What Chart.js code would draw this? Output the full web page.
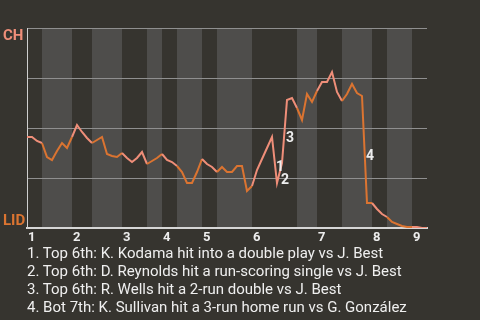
<!DOCTYPE html>
<html>
<head>
<meta charset="utf-8">
<script src="https://cdn.jsdelivr.net/npm/chart.js@4/dist/chart.umd.min.js"></script>
<style>
  html, body { margin: 0; padding: 0; background: #36342f; }
  #wrap { position: relative; width: 480px; height: 320px; overflow: hidden; }
  #c { position: absolute; left: 0; top: 0; }
  #notes {
    position: absolute; left: 27px; top: 244px;
    font: 15px Roboto, sans-serif; line-height: 18px;
    color: #efefef; white-space: nowrap;
  }
</style>
</head>
<body>
<div id="wrap">
  <canvas id="c" width="480" height="320"></canvas>
  <div id="notes"></div>
</div>
<script>
// CH win probability (%) after each plate appearance; index 0 is the first pitch
const winProb = [
  45.5, 45.5, 43.5, 42.5, 35.5, 34, 38.5, 42.5, 40, 45.5,
  51.5, 48, 45, 42.5, 44, 45.5, 37, 36, 35.5, 37.5,
  35, 33, 35, 38, 32, 33.5, 35, 37, 34, 33,
  31, 28, 22.5, 22.5, 28, 34.5, 32, 30.5, 28, 30.5,
  28, 28, 31, 31, 18.5, 21, 29, 34.5, 40, 45.5,
  22.5, 32.5, 64, 65, 60, 54, 67, 63, 68.5, 73,
  73, 78, 68, 63.5, 67, 72, 67.5, 66, 12.5, 12.5,
  9.5, 7, 5.5, 3, 2, 1, 0.5, 0.5, 0.5, 0,
  0
];

// plate-appearance index where each half inning begins (top 1st ... top 9th)
const halfStarts = [0, 3, 9, 13, 19, 24, 27, 30, 35, 38, 45, 54, 58, 63, 69, 72, 77];
const inningLabels = ['1', '2', '3', '4', '5', '6', '7', '8', '9'];
const teamLabels = ['LID', 'CH'];

// key plays: marker, plate appearance that ends the swing, description
const playMarks = ['1', '2', '3', '4'];
const playIndex = [50, 51, 52, 68];
const playText = [
  'Top 6th: K. Kodama hit into a double play vs J. Best',
  'Top 6th: D. Reynolds hit a run-scoring single vs J. Best',
  'Top 6th: R. Wells hit a 2-run double vs J. Best',
  'Bot 7th: K. Sullivan hit a 3-run home run vs G. González'
];

const SALMON = '#ef8e79';
const ORANGE = '#db7431';
const BAND = '#4e4d4b';
const TEXT = '#ededed';

const lastIndex = winProb.length - 1;
const inningStarts = halfStarts.filter((_, i) => i % 2 === 0);

// which half (0 = top, 1 = bottom) a segment starting at index i belongs to
function halfOf(i) {
  let h = 0;
  for (let k = 0; k < halfStarts.length; k++) if (halfStarts[k] <= i) h = k;
  return h % 2;
}

// shaded bands behind the bottom halves
const halfBands = {
  id: 'halfBands',
  beforeDraw(chart) {
    const { ctx, chartArea: a, scales: { x } } = chart;
    ctx.save();
    ctx.fillStyle = BAND;
    for (let h = 1; h < halfStarts.length; h += 2) {
      const end = h + 1 < halfStarts.length ? halfStarts[h + 1] : lastIndex;
      const x0 = x.getPixelForValue(halfStarts[h]);
      const x1 = x.getPixelForValue(end);
      ctx.fillRect(x0, a.top, x1 - x0, a.bottom - a.top);
    }
    ctx.restore();
  }
};

// team names at the ends of the y axis and numbered key-play markers
const labelLayer = {
  id: 'labelLayer',
  afterDatasetsDraw(chart) {
    const { ctx, scales: { x, y } } = chart;
    ctx.save();
    ctx.font = 'bold 15px Roboto, sans-serif';
    ctx.textAlign = 'left';
    ctx.textBaseline = 'alphabetic';
    ctx.fillStyle = SALMON;
    ctx.fillText(teamLabels[1], 3, y.getPixelForValue(100) + 11.5);
    ctx.fillStyle = ORANGE;
    ctx.fillText(teamLabels[0], 3, y.getPixelForValue(0) - 3);

    ctx.font = 'bold 14px Roboto, sans-serif';
    ctx.textAlign = 'center';
    ctx.fillStyle = TEXT;
    playMarks.forEach((m, k) => {
      const i = playIndex[k];
      const mx = (x.getPixelForValue(i - 1) + x.getPixelForValue(i)) / 2;
      const my = (y.getPixelForValue(winProb[i - 1]) + y.getPixelForValue(winProb[i])) / 2;
      ctx.fillText(m, mx + 5.5, my + 10.5);
    });
    ctx.restore();
  }
};

document.getElementById('notes').innerHTML =
  playText.map((t, k) => '<div>' + playMarks[k] + '. ' + t + '</div>').join('');

new Chart(document.getElementById('c'), {
  type: 'line',
  data: {
    datasets: [{
      data: winProb.map((v, i) => ({ x: i, y: v })),
      borderColor: ORANGE,
      borderWidth: 2,
      pointRadius: 0,
      tension: 0,
      fill: false,
      segment: {
        borderColor: c => halfOf(c.p0DataIndex) === 0 ? SALMON : ORANGE
      }
    }]
  },
  options: {
    responsive: false,
    animation: false,
    events: [],
    layout: { padding: { left: 27, right: 53, top: 28, bottom: 72 } },
    plugins: { legend: { display: false }, tooltip: { enabled: false } },
    scales: {
      x: {
        type: 'linear',
        min: 0,
        max: lastIndex,
        afterBuildTicks: s => { s.ticks = inningStarts.map(v => ({ value: v })); },
        afterFit: s => { s.height = 20; },
        ticks: {
          autoSkip: false,
          maxRotation: 0,
          align: 'start',
          labelOffset: 1,
          padding: 2,
          color: TEXT,
          font: { family: 'Roboto', size: 13, weight: 'bold' },
          callback: (v, i) => inningLabels[i]
        },
        grid: { display: false, drawTicks: false },
        border: { display: true, color: '#d6d6d6', width: 2 }
      },
      y: {
        min: 0,
        max: 100,
        afterBuildTicks: s => { s.ticks = [0, 25, 50, 75, 100].map(v => ({ value: v })); },
        afterFit: s => { s.width = 0; },
        ticks: { display: false },
        grid: { color: '#8f8f8f', lineWidth: 1, drawTicks: false },
        border: { display: true, color: '#cfcfcf', width: 1 }
      }
    }
  },
  plugins: [halfBands, labelLayer]
});
</script>
</body>
</html>
